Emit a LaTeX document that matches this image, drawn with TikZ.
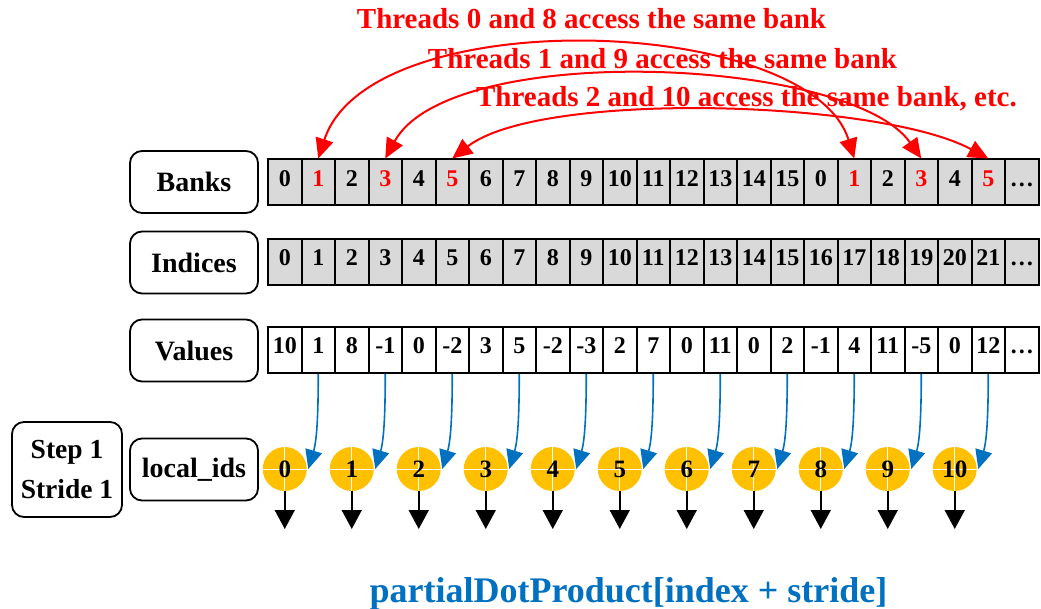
\documentclass[tikz,border=0pt]{standalone}
\usepackage{fontspec}
\setmainfont{Liberation Serif}
\usetikzlibrary{arrows.meta,calc}
\definecolor{bankgray}{HTML}{D9D9D9}
\definecolor{gold}{HTML}{FFC000}
\definecolor{myblue}{HTML}{0070C0}
\definecolor{myred}{HTML}{FF0000}
\newcommand\redd[1]{\textcolor{myred}{#1}}
\begin{document}
\begin{tikzpicture}[x=1pt,y=-1pt,
  labelbox/.style={draw, line width=1.8pt, rounded corners=12pt, minimum width=128pt,
    minimum height=62pt, inner sep=0pt, font=\bfseries\fontsize{28}{32}\selectfont},
  cellbox/.style={draw, line width=2pt, minimum width=33.5pt, minimum height=46pt,
    inner sep=0pt, text height=17pt, text depth=9pt, font=\bfseries\fontsize{24}{28}\selectfont},
  circ/.style={circle, fill=gold, minimum size=44pt, inner sep=0pt, outer sep=0pt},
  circtext/.style={inner sep=0pt, font=\bfseries\fontsize{25}{28}\selectfont},
  redtext/.style={anchor=base, text=myred, inner sep=0pt, font=\bfseries\fontsize{29}{34}\selectfont},
  redarr/.style={draw=myred, line width=2pt, {Triangle[length=20pt,width=18pt]}-{Triangle[length=20pt,width=18pt]}},
  bluearr/.style={draw=myblue, line width=1.6pt, -{Triangle[length=19pt,width=17pt]}},
  blackarr/.style={draw=black, line width=1.6pt, -{Triangle[length=19pt,width=20pt]}}
]
\useasboundingbox (0,0) rectangle (1041,609);

% label boxes
\node[labelbox] (lbanks) at (194,182) {Banks};
\node[labelbox] (lind) at (194,262.5) {Indices};
\node[labelbox] (lval) at (194,350.5) {Values};
\node[labelbox] (lloc) at (194,469.5) {local\_ids};
\node[labelbox, minimum width=110pt, minimum height=95pt, align=center,
  font=\bfseries\fontsize{27.5}{40}\selectfont] (lstep) at (67,469.5) {Step 1\\Stride 1};

% banks row
\foreach \v [count=\i from 0] in {0,\redd{1},2,\redd{3},4,\redd{5},6,7,8,9,10,11,12,13,14,15,0,\redd{1},2,\redd{3},4,\redd{5},…}
  \node[cellbox, fill=bankgray] (b\i) at ({284.75+33.5*\i},182.5) {\v};

% indices row
\foreach \v [count=\i from 0] in {0,1,2,3,4,5,6,7,8,9,10,11,12,13,14,15,16,17,18,19,20,21,…}
  \node[cellbox, fill=bankgray] (n\i) at ({284.75+33.5*\i},262) {\v};

% values row
\foreach \v [count=\i from 0] in {10,1,8,-1,0,-2,3,5,-2,-3,2,7,0,11,0,2,-1,4,11,-5,0,12,…}
  \node[cellbox, fill=white] (v\i) at ({284.75+33.5*\i},350) {\v};

% circles
\foreach \k in {0,...,10} {
  \node[circ] (c\k) at ({284.75+67*\k},469) {};
  \draw[white, line width=1pt] (c\k.north) -- (c\k.south) (c\k.west) -- (c\k.east);
  \node[circtext] (t\k) at (c\k.center) {\k};
  \coordinate (d\k) at ($(c\k.south)+(0,38)$);
  \draw[blackarr] (c\k.south) -- (d\k);
  \pgfmathtruncatemacro\j{2*\k+1}
  \coordinate (e\k) at ($(c\k.east)+(1.5,0)$);
  \draw[bluearr] (v\j.south) .. controls +(0,35) and +(9,-30) .. (e\k);
}

% red arcs
\draw[redarr] (b1.north) .. controls (370,0) and (810,15) .. (b17.north);
\draw[redarr] (b3.north) .. controls (450,40) and (850,57) .. (b19.north);
\draw[redarr] (b5.north) .. controls (540,90) and (880,100) .. (b21.north);

% red texts
\node[redtext] (r1) at (591.5,29) {Threads 0 and 8 access the same bank};
\node[redtext] (r2) at (662.5,69) {Threads 1 and 9 access the same bank};
\node[redtext] (r3) at (746.5,107) {Threads 2 and 10 access the same bank, etc.};

% bottom text
\node[anchor=base, text=myblue, inner sep=0pt, font=\bfseries\fontsize{36}{40}\selectfont]
  (pdp) at (628.5,602) {partialDotProduct[index + stride]};
\end{tikzpicture}
\end{document}
